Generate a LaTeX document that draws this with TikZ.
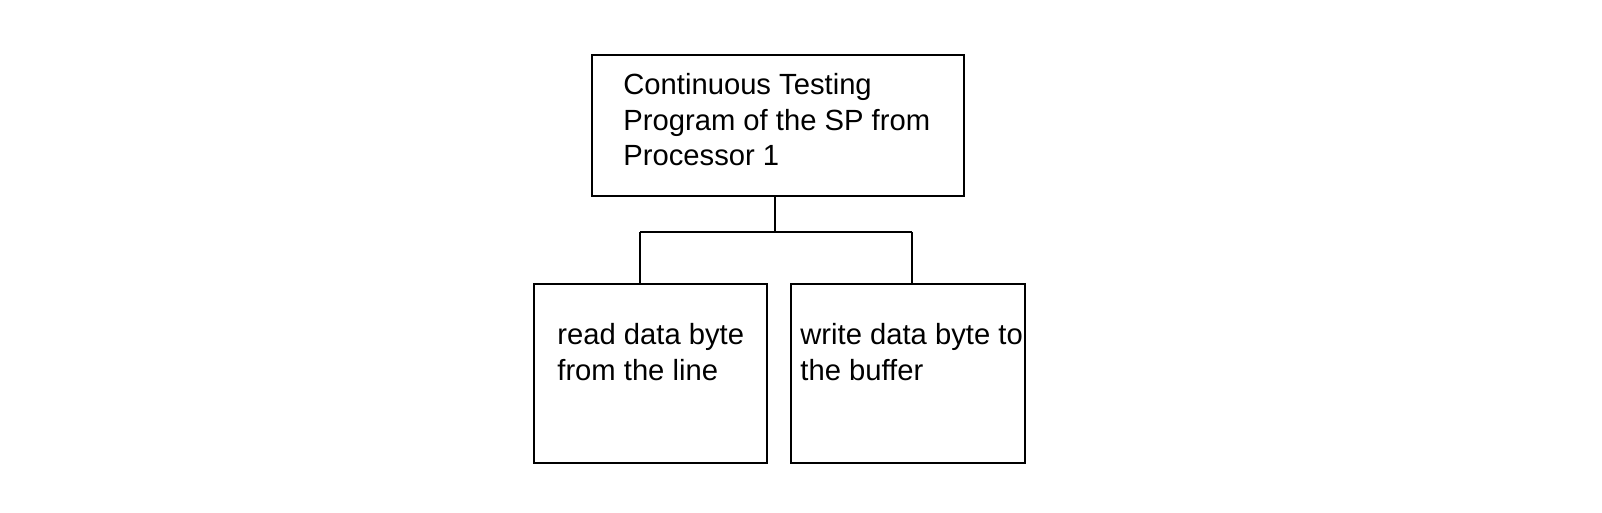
\documentclass[tikz,border=0pt]{standalone}
\usepackage{fontspec}
\setmainfont{Liberation Sans}
\begin{document}
\begin{tikzpicture}[x=0.5pt,y=-0.5pt,
  box/.style={draw,line width=1.2pt},
  lbl/.style={anchor=north west,inner sep=0pt,align=left,font=\fontsize{14.6pt}{17.8pt}\selectfont},
  wire/.style={line width=1.2pt}]
\useasboundingbox (0,0) rectangle (1602,513);
\draw[box] (592,55) rectangle (964,196);
\draw[box] (534,284) rectangle (767,463);
\draw[box] (791,284) rectangle (1025,463);
\node[lbl] (t) at (623,73) {Continuous Testing\\Program of the SP from\\Processor 1};
\node[lbl] (l) at (557,323) {read data byte\\from the line};
\node[lbl] (r) at (800,323) {write data byte to\\the buffer};
\coordinate (top) at (775,196);
\coordinate (mid) at (775,232);
\coordinate (jl) at (640,232);
\coordinate (jr) at (912,232);
\coordinate (bl) at (640,284);
\coordinate (br) at (912,284);
\draw[wire] (top) -- (mid);
\draw[wire] (jl) -- (jr);
\draw[wire] (jl) -- (bl);
\draw[wire] (jr) -- (br);
\end{tikzpicture}
\end{document}
